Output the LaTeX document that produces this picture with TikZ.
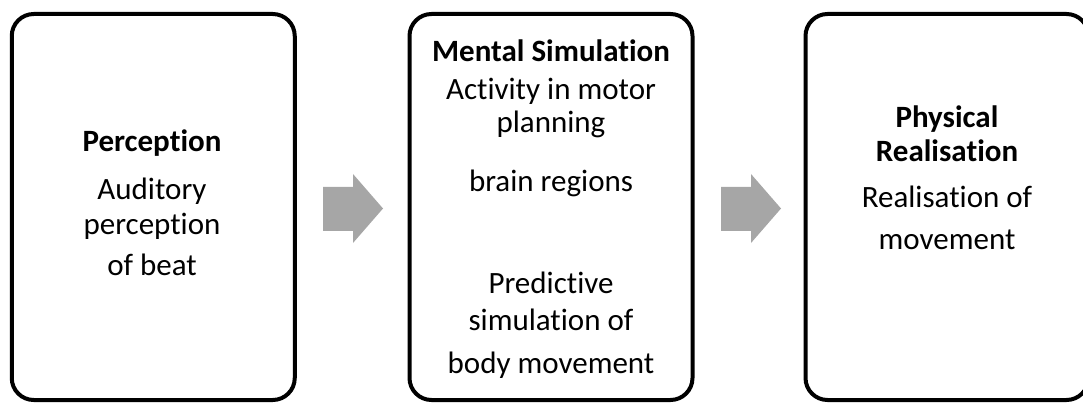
\documentclass[tikz,border=0pt]{standalone}
\usepackage{fontspec}
\setmainfont[RawFeature={-liga}]{Carlito}
\definecolor{arrowgray}{HTML}{A6A6A6}
\begin{document}
\begin{tikzpicture}[x=1pt,y=-1pt,
  box/.style={draw=black,line width=4pt,rounded corners=22pt,minimum width=283pt,minimum height=386pt,inner sep=0pt,outer sep=0pt},
  txt/.style={anchor=base,inner sep=0pt,font=\fontsize{31}{37}\selectfont},
  ttl/.style={txt,font=\fontsize{31}{37}\selectfont\bfseries},
  blockarrow/.style={fill=arrowgray,draw=none}]
\useasboundingbox (0,0) rectangle (1083,403);
\node[box] (b1) at (153.25,207) {};
\node[box] (b2) at (551,207) {};
\node[box] (b3) at (947,207) {};
% arrows
\fill[blockarrow] (323,187) -- (353,187) -- (353,174) -- (383,208.5) -- (353,243) -- (353,231) -- (323,231) -- cycle;
\fill[blockarrow] (721,187) -- (751,187) -- (751,174) -- (781,208.5) -- (751,243) -- (751,231) -- (721,231) -- cycle;
% box 1 text
\node[ttl] (t1) at (152,152) {Perception};
\node[txt] (t1a) at (152,200) {Auditory};
\node[txt] (t1b) at (152,235) {perception};
\node[txt] (t1c) at (152,275) {of beat};
% box 2 text
\node[ttl] (t2) at (551,62) {Mental Simulation};
\node[txt] (t2a) at (551,100) {Activity in motor};
\node[txt] (t2b) at (551,133) {planning};
\node[txt] (t2c) at (551,192) {brain regions};
\node[txt] (t2d) at (551,293) {Predictive};
\node[txt] (t2e) at (551,330) {simulation of};
\node[txt] (t2f) at (551,373) {body movement};
% box 3 text
\node[ttl] (t3) at (947,128) {Physical};
\node[ttl] (t3a) at (947,162) {Realisation};
\node[txt] (t3b) at (947,208) {Realisation of};
\node[txt] (t3c) at (947,250) {movement};
\end{tikzpicture}
\end{document}
